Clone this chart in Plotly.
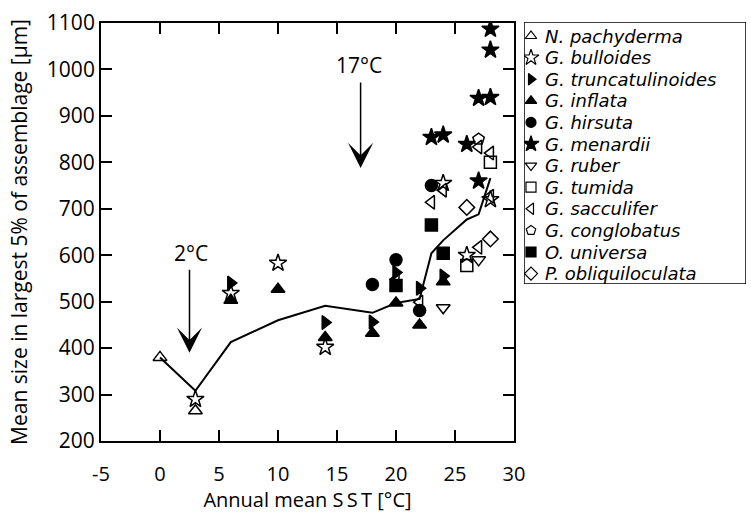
import plotly.graph_objects as go

# ---- data ----
line_x = [0, 3, 6, 10, 14, 18, 20, 22, 23, 24, 26, 27, 28]
line_y = [380, 308, 413, 460, 491, 476, 497, 506, 604, 632, 677, 688, 766]

pachyderma_x = [0, 3]
pachyderma_y = [380, 265]
bulloides_x = [3, 6, 10, 14, 24, 26, 28]
bulloides_y = [290, 518, 583, 402, 755, 600, 720]
truncatulinoides_x = [6, 14, 18, 20, 22, 24]
truncatulinoides_y = [540, 455, 456, 563, 529, 555]
inflata_x = [6, 10, 14, 18, 20, 22, 24]
inflata_y = [503, 527, 423, 432, 497, 450, 543]
hirsuta_x = [18, 20, 22, 23]
hirsuta_y = [537, 590, 481, 750]
menardii_x = [23, 24, 26, 27, 28, 28, 28, 27]
menardii_y = [854, 859, 839, 938, 940, 1042, 1087, 760]
ruber_x = [24, 27]
ruber_y = [487, 590]
tumida_x = [26, 28]
tumida_y = [578, 800]
sacculifer_x = [20, 22, 23, 24, 27, 28, 27, 28]
sacculifer_y = [548, 499, 714, 740, 833, 820, 617, 727]
conglobatus_x = [27]
conglobatus_y = [850]
universa_x = [20, 23, 24]
universa_y = [535, 665, 604]
obliquiloculata_x = [26, 28]
obliquiloculata_y = [703, 635]

x_ticks = [-5, 0, 5, 10, 15, 20, 25, 30]
x_ticktext = ["-5", "0", "5", "10", "15", "20", "25", "30"]
y_ticks = [200, 300, 400, 500, 600, 700, 800, 900, 1000, 1100]

species_names = ["N. pachyderma", "G. bulloides", "G. truncatulinoides", "G. inflata",
                 "G. hirsuta", "G. menardii", "G. ruber", "G. tumida", "G. sacculifer",
                 "G. conglobatus", "O. universa", "P. obliquiloculata"]
species_x = [pachyderma_x, bulloides_x, truncatulinoides_x, inflata_x, hirsuta_x,
             menardii_x, ruber_x, tumida_x, sacculifer_x, conglobatus_x, universa_x,
             obliquiloculata_x]
species_y = [pachyderma_y, bulloides_y, truncatulinoides_y, inflata_y, hirsuta_y,
             menardii_y, ruber_y, tumida_y, sacculifer_y, conglobatus_y, universa_y,
             obliquiloculata_y]
species_symbols = ["triangle-up-open", "star-open", "triangle-right", "triangle-up",
                   "circle", "star", "triangle-down-open", "square-open",
                   "triangle-left-open", "pentagon-open", "square", "diamond-open"]

FONT = "Open Sans"
LEGEND_FONT = "DejaVu Sans"
W, H = 751, 513
# plot area in pixels
PL, PR, PT, PB = 101, 514, 23, 441
# legend box in pixels
LL, LR, LT, LB = 524, 746, 22, 284
ROW0, ROWSTEP = 14, 21.6

fig = go.Figure()
fig.add_trace(go.Scatter(x=line_x, y=line_y, mode="lines",
                         line=dict(color="black", width=2), showlegend=False))
for name, xs, ys, sym in zip(species_names, species_x, species_y, species_symbols):
    size = 13 if sym.startswith("star") else 12
    fig.add_trace(go.Scatter(
        x=xs, y=ys, mode="markers", name=name, showlegend=False,
        marker=dict(symbol=sym, size=size, color="black",
                    line=dict(color="black", width=1.5)),
    ))

# custom legend drawn on its own axes
for i, (name, sym) in enumerate(zip(species_names, species_symbols)):
    fig.add_trace(go.Scatter(
        x=[7], y=[ROW0 + ROWSTEP * i], xaxis="x2", yaxis="y2",
        mode="markers", showlegend=False, hoverinfo="skip",
        marker=dict(symbol=sym, size=10 if not sym.startswith("star") else 12,
                    color="black", line=dict(color="black", width=1.2)),
    ))
    fig.add_annotation(x=19, y=ROW0 + ROWSTEP * i, xref="x2", yref="y2",
                       text="<i>" + name + "</i>", showarrow=False,
                       xanchor="left", yanchor="middle",
                       font=dict(size=18, color="black", family=LEGEND_FONT))
fig.add_shape(type="rect", xref="x2", yref="y2", x0=0, x1=LR - LL, y0=0, y1=LB - LT,
              line=dict(color="black", width=1.5), fillcolor="rgba(0,0,0,0)")

# arrows and labels
fig.add_annotation(x=17, y=788, ax=17, ay=975, xref="x", yref="y",
                   axref="x", ayref="y", text="", showarrow=True,
                   arrowhead=3, arrowsize=2.8, arrowwidth=1.5, arrowcolor="black")
fig.add_annotation(x=16.9, y=1010, xref="x", yref="y", text="17°C",
                   showarrow=False, font=dict(size=21, color="black", family=FONT))
fig.add_annotation(x=2.5, y=390, ax=2.5, ay=572, xref="x", yref="y",
                   axref="x", ayref="y", text="", showarrow=True,
                   arrowhead=3, arrowsize=2.8, arrowwidth=1.5, arrowcolor="black")
fig.add_annotation(x=2.6, y=605, xref="x", yref="y", text="2°C",
                   showarrow=False, font=dict(size=21, color="black", family=FONT))

axis_common = dict(showline=True, linecolor="black", linewidth=1.8, mirror="ticks",
                   ticks="inside", ticklen=11, tickwidth=1.5, tickcolor="black",
                   showgrid=False, zeroline=False, automargin=False)

fig.update_layout(
    xaxis=dict(domain=[PL / W, PR / W], range=[-5, 30], tickvals=x_ticks,
               ticktext=x_ticktext, ticklabelstandoff=14,
               tickfont=dict(size=20, color="black", family=FONT),
               title=dict(text="Annual mean S\u2009S\u2009T [°C]", standoff=7,
                          font=dict(size=20, color="black", family=FONT)),
               **axis_common),
    yaxis=dict(domain=[(H - PB) / H, (H - PT) / H], range=[200, 1100],
               tickvals=y_ticks, ticktext=[str(v) for v in y_ticks],
               tickfont=dict(size=21, color="black", family=FONT),
               title=dict(text="Mean size in largest 5% of assemblage [µm]", standoff=14,
                          font=dict(size=21, color="black", family=FONT)),
               **axis_common),
    xaxis2=dict(domain=[LL / W, LR / W], range=[0, LR - LL], visible=False,
                anchor="y2", fixedrange=True),
    yaxis2=dict(domain=[(H - LB) / H, (H - LT) / H], range=[LB - LT, 0], visible=False,
                anchor="x2", fixedrange=True),
    width=W, height=H,
    margin=dict(l=0, r=0, t=0, b=0),
    plot_bgcolor="white", paper_bgcolor="white",
    font=dict(family=FONT, color="black"),
    showlegend=False,
)

fig.write_html("out.html")
